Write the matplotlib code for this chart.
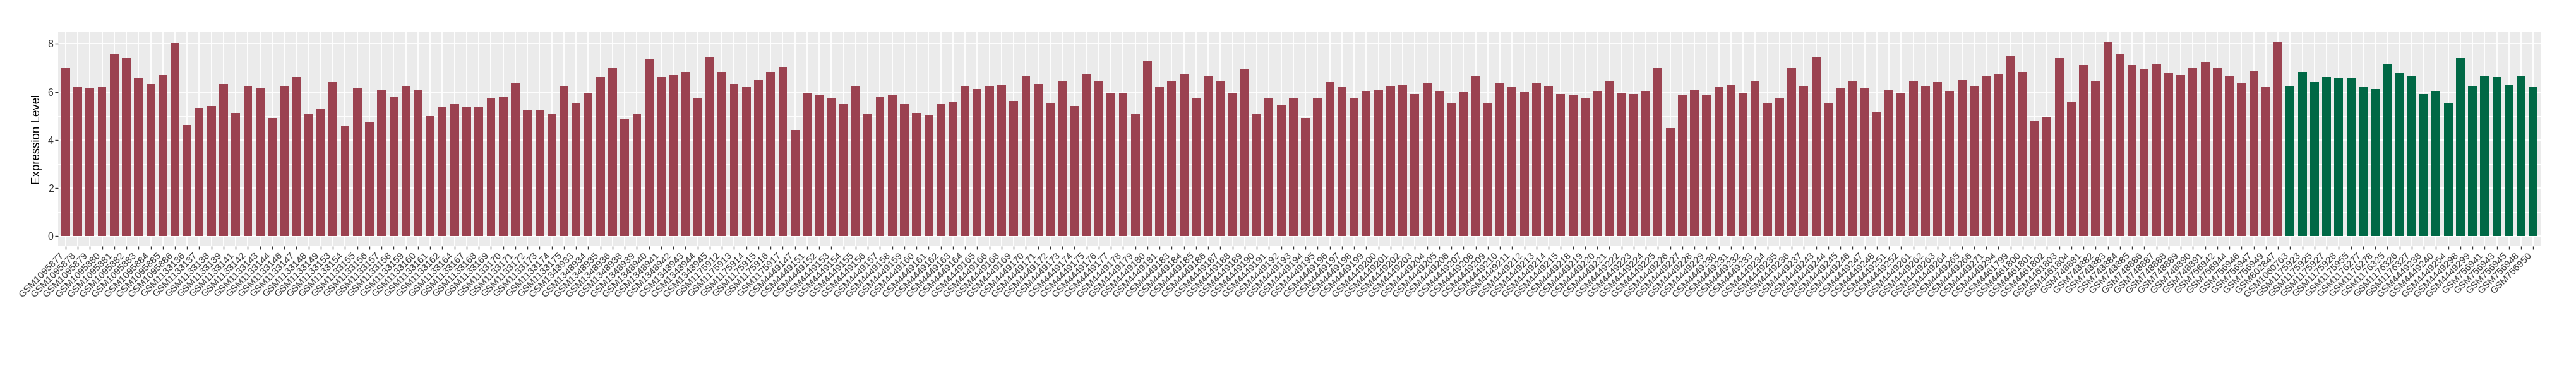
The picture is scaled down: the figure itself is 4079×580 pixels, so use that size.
import numpy as np
import matplotlib

matplotlib.use("Agg")
import matplotlib.pyplot as plt
from matplotlib.ticker import MultipleLocator


# sample ids, in plotting order
red_samples = [
    "GSM1095877", "GSM1095878", "GSM1095879", "GSM1095880", "GSM1095881",
    "GSM1095882", "GSM1095883", "GSM1095884", "GSM1095885", "GSM1095886",
    "GSM1133136", "GSM1133137", "GSM1133138", "GSM1133139", "GSM1133141",
    "GSM1133142", "GSM1133143", "GSM1133144", "GSM1133146", "GSM1133147",
    "GSM1133148", "GSM1133149", "GSM1133153", "GSM1133154", "GSM1133155",
    "GSM1133156", "GSM1133157", "GSM1133158", "GSM1133159", "GSM1133160",
    "GSM1133161", "GSM1133162", "GSM1133164", "GSM1133167", "GSM1133168",
    "GSM1133169", "GSM1133170", "GSM1133171", "GSM1133172", "GSM1133173",
    "GSM1133174", "GSM1133175", "GSM1348933", "GSM1348934", "GSM1348935",
    "GSM1348936", "GSM1348938", "GSM1348939", "GSM1348940", "GSM1348941",
    "GSM1348942", "GSM1348943", "GSM1348944", "GSM1348945", "GSM1175912",
    "GSM1175913", "GSM1175914", "GSM1175915", "GSM1175916", "GSM1175917",
    "GSM4449147", "GSM4449151", "GSM4449152", "GSM4449153", "GSM4449154",
    "GSM4449155", "GSM4449156", "GSM4449157", "GSM4449158", "GSM4449159",
    "GSM4449160", "GSM4449161", "GSM4449162", "GSM4449163", "GSM4449164",
    "GSM4449165", "GSM4449166", "GSM4449168", "GSM4449169", "GSM4449170",
    "GSM4449171", "GSM4449172", "GSM4449173", "GSM4449174", "GSM4449175",
    "GSM4449176", "GSM4449177", "GSM4449178", "GSM4449179", "GSM4449180",
    "GSM4449181", "GSM4449183", "GSM4449184", "GSM4449185", "GSM4449186",
    "GSM4449187", "GSM4449188", "GSM4449189", "GSM4449190", "GSM4449191",
    "GSM4449192", "GSM4449193", "GSM4449194", "GSM4449195", "GSM4449196",
    "GSM4449197", "GSM4449198", "GSM4449199", "GSM4449200", "GSM4449201",
    "GSM4449202", "GSM4449203", "GSM4449204", "GSM4449205", "GSM4449206",
    "GSM4449207", "GSM4449208", "GSM4449209", "GSM4449210", "GSM4449211",
    "GSM4449212", "GSM4449213", "GSM4449214", "GSM4449215", "GSM4449218",
    "GSM4449219", "GSM4449220", "GSM4449221", "GSM4449222", "GSM4449223",
    "GSM4449224", "GSM4449225", "GSM4449226", "GSM4449227", "GSM4449228",
    "GSM4449229", "GSM4449230", "GSM4449231", "GSM4449232", "GSM4449233",
    "GSM4449234", "GSM4449235", "GSM4449236", "GSM4449237", "GSM4449243",
    "GSM4449244", "GSM4449245", "GSM4449246", "GSM4449247", "GSM4449248",
    "GSM4449251", "GSM4449252", "GSM4449261", "GSM4449262", "GSM4449263",
    "GSM4449264", "GSM4449265", "GSM4449266", "GSM4449271", "GSM4449294",
    "GSM4461799", "GSM4461800", "GSM4461801", "GSM4461802", "GSM4461803",
    "GSM4461804", "GSM748881", "GSM748882", "GSM748883", "GSM748884",
    "GSM748885", "GSM748886", "GSM748887", "GSM748888", "GSM748889",
    "GSM748890", "GSM748891", "GSM756942", "GSM756944", "GSM756946",
    "GSM756947", "GSM756949", "GSM802847",
]
red_values = [
    7.00, 6.19, 6.17, 6.21, 7.58, 7.41, 6.59, 6.33, 6.71, 8.03,
    4.63, 5.34, 5.41, 6.33, 5.13, 6.24, 6.14, 4.92, 6.26, 6.61,
    5.10, 5.27, 6.40, 4.59, 6.17, 4.72, 6.07, 5.79, 6.26, 6.07,
    4.99, 5.39, 5.48, 5.39, 5.39, 5.72, 5.81, 6.36, 5.22, 5.22,
    5.08, 6.26, 5.55, 5.93, 6.61, 7.00, 4.89, 5.10, 7.37, 6.61,
    6.71, 6.83, 5.74, 7.44, 6.83, 6.33, 6.21, 6.52, 6.83, 7.04,
    4.42, 5.97, 5.86, 5.76, 5.48, 6.26, 5.06, 5.81, 5.86, 5.50,
    5.13, 5.03, 5.50, 5.60, 6.26, 6.12, 6.24, 6.28, 5.62, 6.66,
    6.33, 5.55, 6.45, 5.41, 6.76, 6.47, 5.97, 5.97, 5.08, 7.30,
    6.21, 6.45, 6.73, 5.74, 6.68, 6.45, 5.96, 6.97, 5.06, 5.74,
    5.43, 5.74, 4.92, 5.74, 6.40, 6.21, 5.76, 6.04, 6.10, 6.24,
    6.28, 5.90, 6.38, 6.03, 5.53, 6.00, 6.64, 5.55, 6.36, 6.21,
    6.00, 6.38, 6.26, 5.90, 5.89, 5.72, 6.04, 6.47, 5.97, 5.90,
    6.04, 7.00, 4.49, 5.86, 6.10, 5.89, 6.19, 6.28, 5.96, 6.45,
    5.55, 5.74, 7.01, 6.26, 7.44, 5.55, 6.17, 6.47, 6.14, 5.17,
    6.07, 5.96, 6.45, 6.26, 6.40, 6.03, 6.52, 6.24, 6.66, 6.76,
    7.48, 6.83, 4.79, 4.96, 7.41, 5.60, 7.11, 6.47, 8.05, 7.55,
    7.11, 6.94, 7.14, 6.78, 6.71, 7.01, 7.21, 7.00, 6.68, 6.36,
    6.85, 6.19, 8.08,
]

green_samples = [
    "GSM1060763", "GSM1175923", "GSM1175925", "GSM1175927", "GSM1175928",
    "GSM1175955", "GSM1176277", "GSM1176278", "GSM1176325", "GSM1176326",
    "GSM1176327", "GSM4449238", "GSM4449240", "GSM4449254", "GSM4449298",
    "GSM4449299", "GSM756941", "GSM756943", "GSM756945", "GSM756948",
    "GSM756950",
]
green_values = [
    6.26, 6.83, 6.40, 6.61, 6.57, 6.59, 6.19, 6.12, 7.14, 6.78,
    6.64, 5.90, 6.04, 5.53, 7.40, 6.26, 6.64, 6.61, 6.28, 6.68,
    6.21,
]

RED = "#9B4250"
GREEN = "#006845"

samples = red_samples + green_samples
values = red_values + green_values
colors = [RED] * len(red_samples) + [GREEN] * len(green_samples)
x = np.arange(len(samples))

plt.rcParams["font.family"] = ["Liberation Sans", "DejaVu Sans"]

fig = plt.figure(figsize=(40.8, 5.8), dpi=100)
ax = fig.add_axes([0.0226, 0.328, 0.9634, 0.584])
ax.set_facecolor("#EBEBEB")

ax.bar(x, values, width=0.72, color=colors, zorder=3)

ax.set_xlim(-0.6, len(samples) - 0.4)
ax.set_ylim(-0.404, 8.48)
ax.yaxis.set_major_locator(MultipleLocator(2))
ax.yaxis.set_minor_locator(MultipleLocator(1))

ax.grid(which="major", color="white", linewidth=1.3, zorder=1)
ax.grid(which="minor", axis="y", color="white", linewidth=0.65, zorder=1)
for s in ax.spines.values():
    s.set_visible(False)

ax.set_xticks(x)
ax.set_xticklabels(samples, rotation=45, ha="right", va="top",
                   fontsize=11, color="#333333")
ax.tick_params(axis="both", which="major", length=3.5, width=1.0,
               color="#333333", labelcolor="#333333", pad=2)
ax.tick_params(axis="y", labelsize=11.5)
ax.tick_params(axis="y", which="minor", length=0)
ax.set_ylabel("Expression Level", fontsize=13.5, color="black", labelpad=6)

fig.savefig("out.png", dpi=100)
plt.close(fig)
